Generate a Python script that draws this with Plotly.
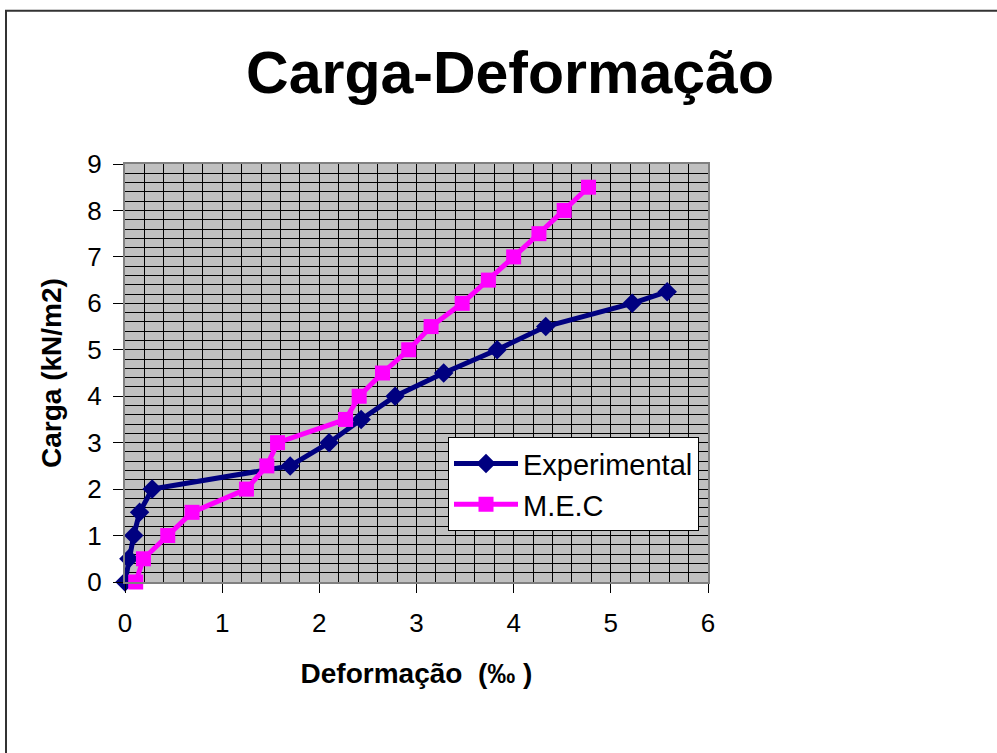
import plotly.graph_objects as go

# Experimental load-deformation readings
exp_def = [0.0, 0.04, 0.09, 0.15, 0.28, 1.70, 2.10, 2.43, 2.78, 3.28, 3.83, 4.33, 5.22, 5.58]
exp_load = [0.0, 0.5, 1.0, 1.5, 2.0, 2.5, 3.0, 3.5, 4.0, 4.5, 5.0, 5.5, 6.0, 6.25]

# M.E.C model results
mec_def = [0.11, 0.19, 0.44, 0.69, 1.25, 1.46, 1.57, 2.27, 2.41, 2.65, 2.92, 3.15,
           3.47, 3.74, 4.00, 4.26, 4.52, 4.77]
mec_load = [0.0, 0.5, 1.0, 1.5, 2.0, 2.5, 3.0, 3.5, 4.0, 4.5, 5.0, 5.5,
            6.0, 6.5, 7.0, 7.5, 8.0, 8.5]

x_ticks = [0, 1, 2, 3, 4, 5, 6]
y_ticks = [0, 1, 2, 3, 4, 5, 6, 7, 8, 9]

W, H = 997, 753
L, R, T, B = 125, 708, 163.5, 582  # plot area in pixels

FONT = "Liberation Sans, Arial, sans-serif"

fig = go.Figure()
fig.add_trace(go.Scatter(
    x=exp_def, y=exp_load, name="Experimental", mode="lines+markers",
    line=dict(color="#000080", width=5),
    marker=dict(symbol="diamond", size=15, color="#000080"),
    cliponaxis=False,
))
fig.add_trace(go.Scatter(
    x=mec_def, y=mec_load, name="M.E.C", mode="lines+markers",
    line=dict(color="#FF00FF", width=5),
    marker=dict(symbol="square", size=15, color="#FF00FF"),
    cliponaxis=False,
))


def px_x(p):
    return (p - L) / (R - L)


def px_y(p):
    return (B - p) / (B - T)


# outer slide frame
fig.add_shape(type="path", xref="paper", yref="paper",
              path=f"M {px_x(6)} {px_y(760)} L {px_x(6)} {px_y(10)} L {px_x(1005)} {px_y(10)}",
              line=dict(color="#333333", width=2))

axis_common = dict(
    showline=True, linecolor="#808080", linewidth=2, mirror=True,
    ticks="outside", tickcolor="#000000", tickwidth=1,
    tickfont=dict(family=FONT, size=26, color="#000000"),
    showgrid=True, gridcolor="#000000", gridwidth=1, zeroline=False,
)

fig.update_xaxes(
    range=[0, 6], tickvals=x_ticks, ticktext=[str(v) for v in x_ticks],
    ticklen=9, ticklabelstandoff=8,
    minor=dict(dtick=0.2, showgrid=True, gridcolor="#000000", gridwidth=1, ticks=""),
    title=dict(text="<b>Deformação  (‰ )</b>",
               font=dict(family=FONT, size=28, color="#000000"), standoff=26),
    **axis_common,
)
fig.update_yaxes(
    range=[0, 9], tickvals=y_ticks, ticktext=[str(v) for v in y_ticks],
    ticklen=10, ticklabelstandoff=6,
    minor=dict(dtick=0.2, showgrid=True, gridcolor="#000000", gridwidth=1, ticks=""),
    title=dict(text="<b>Carga (kN/m2)</b>",
               font=dict(family=FONT, size=28, color="#000000"), standoff=18),
    **axis_common,
)

fig.update_layout(
    width=W, height=H,
    margin=dict(l=L, r=W - R, t=T, b=H - B, autoexpand=False),
    paper_bgcolor="#FFFFFF", plot_bgcolor="#C0C0C0",
    title=dict(text="<b>Carga-Deformação</b>", x=px_x(510), xref="paper",
               y=1 - 72 / H, yref="container", xanchor="center", yanchor="middle",
               font=dict(family=FONT, size=59, color="#000000")),
    legend=dict(
        x=px_x(448), y=px_y(437), xanchor="left", yanchor="top",
        bgcolor="#FFFFFF", bordercolor="#000000", borderwidth=1,
        font=dict(family=FONT, size=29, color="#000000"),
        itemwidth=64, tracegroupgap=4,
    ),
    showlegend=True,
)

fig.write_html("out.html")
